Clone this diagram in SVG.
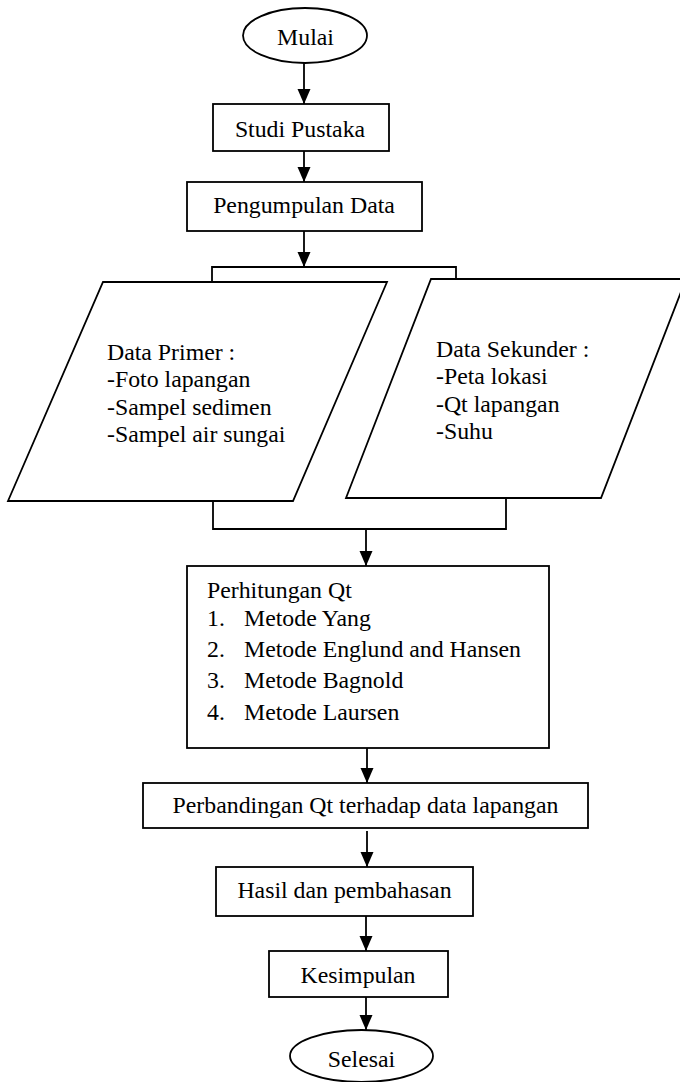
<svg xmlns="http://www.w3.org/2000/svg" width="680" height="1082" viewBox="0 0 680 1082">
<style>
.s{fill:#fff;stroke:#000;stroke-width:1.8}
.c{fill:none;stroke:#000;stroke-width:1.8}
text{font-family:"Liberation Serif","Times New Roman",serif;font-size:23.8px;fill:#000}
.m{text-anchor:middle}
</style>
<defs>
<marker id="ah" markerUnits="userSpaceOnUse" markerWidth="16" markerHeight="14" refX="15" refY="6.5" orient="auto">
<path d="M0,0 L15,6.5 L0,13 z" fill="#000"/>
</marker>
</defs>
<rect width="680" height="1082" fill="#fff"/>
<g id="connectors">
<line class="c" x1="304" y1="63" x2="304" y2="104" marker-end="url(#ah)"/>
<line class="c" x1="304" y1="151" x2="304" y2="182" marker-end="url(#ah)"/>
<line class="c" x1="304" y1="231" x2="304" y2="267" marker-end="url(#ah)"/>
<polyline class="c" points="212,282 212,267 456,267 456,279"/>
<polyline class="c" points="213,501 213,529 506,529 506,498"/>
<line class="c" x1="366" y1="529" x2="366" y2="566" marker-end="url(#ah)"/>
<line class="c" x1="367" y1="748" x2="367" y2="783" marker-end="url(#ah)"/>
<line class="c" x1="367" y1="831" x2="367" y2="867" marker-end="url(#ah)"/>
<line class="c" x1="366" y1="916" x2="366" y2="951" marker-end="url(#ah)"/>
<line class="c" x1="366" y1="997" x2="366" y2="1030" marker-end="url(#ah)"/>
</g>
<g id="mulai">
<ellipse class="s" cx="305" cy="35.5" rx="62" ry="27.5"/>
<text class="m" x="305.5" y="45">Mulai</text>
</g>
<g id="studi">
<rect class="s" x="213" y="104" width="176" height="47"/>
<text class="m" x="300" y="137">Studi Pustaka</text>
</g>
<g id="pengumpulan">
<rect class="s" x="187" y="182" width="235" height="49"/>
<text class="m" x="304" y="213">Pengumpulan Data</text>
</g>
<g id="primer">
<polygon class="s" points="103,282 387,282 293,501 8,501"/>
<text x="107" y="360">Data Primer :</text>
<text x="107" y="387">-Foto lapangan</text>
<text x="107" y="415">-Sampel sedimen</text>
<text x="107" y="442">-Sampel air sungai</text>
</g>
<g id="sekunder">
<polygon class="s" points="431,279 686,279 601,498 346,498"/>
<text x="436" y="357">Data Sekunder :</text>
<text x="436" y="384">-Peta lokasi</text>
<text x="436" y="412">-Qt lapangan</text>
<text x="436" y="439">-Suhu</text>
</g>
<g id="perhitungan">
<rect class="s" x="187" y="566" width="362" height="182"/>
<text x="207" y="598">Perhitungan Qt</text>
<text x="207" y="626">1.</text><text x="244" y="626">Metode Yang</text>
<text x="207" y="657">2.</text><text x="244" y="657">Metode Englund and Hansen</text>
<text x="207" y="688">3.</text><text x="244" y="688">Metode Bagnold</text>
<text x="207" y="720">4.</text><text x="244" y="720">Metode Laursen</text>
</g>
<g id="perbandingan">
<rect class="s" x="143" y="783" width="445" height="45"/>
<text class="m" x="365.5" y="813">Perbandingan Qt terhadap data lapangan</text>
</g>
<g id="hasil">
<rect class="s" x="216" y="867" width="257" height="49"/>
<text class="m" x="344.5" y="898">Hasil dan pembahasan</text>
</g>
<g id="kesimpulan">
<rect class="s" x="269" y="951" width="179" height="46"/>
<text class="m" x="358" y="983">Kesimpulan</text>
</g>
<g id="selesai">
<ellipse class="s" cx="361.5" cy="1056" rx="71.5" ry="26"/>
<text class="m" x="361.5" y="1067">Selesai</text>
</g>
</svg>
